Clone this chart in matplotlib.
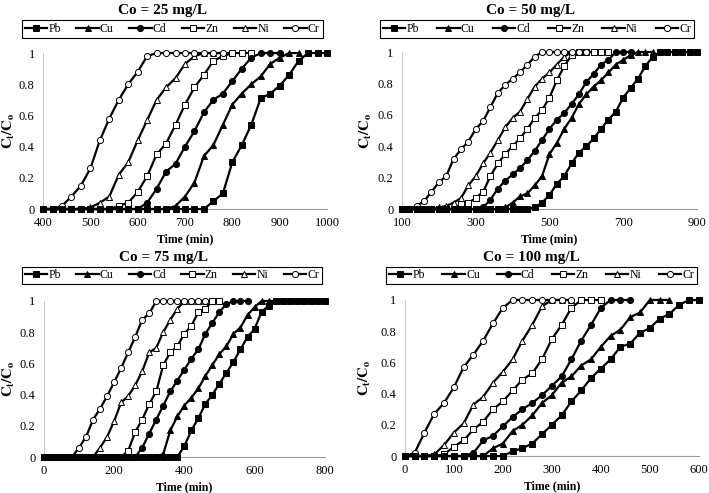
import matplotlib
matplotlib.use('Agg')
import matplotlib.pyplot as plt
import numpy as np

plt.rcParams['font.family'] = ['Liberation Serif', 'DejaVu Serif']
plt.rcParams['mathtext.fontset'] = 'stix'

N = None

# Co = 25 mg/L
t25 = list(range(400, 1001, 20))
pb25 = [0] * 18 + [0.05, 0.10, 0.30, 0.41, 0.54, 0.71, 0.74, 0.79, 0.86, 0.95, 1, 1, 1]
cu25 = [0] * 14 + [0.02, 0.08, 0.17, 0.34, 0.41, 0.54, 0.67, 0.74, 0.80, 0.85, 0.93, 0.97, 1, 1] + [N] * 3
cd25 = [0] * 11 + [0.04, 0.13, 0.24, 0.29, 0.40, 0.50, 0.62, 0.70, 0.74, 0.82, 0.90, 0.97, 1, 1, 1] + [N] * 5
zn25 = [0] * 8 + [0.02, 0.04, 0.11, 0.21, 0.35, 0.42, 0.54, 0.67, 0.78, 0.86, 0.95, 0.98, 1, 1, 1] + [N] * 8
ni25 = [0] * 5 + [0.01, 0.04, 0.08, 0.22, 0.30, 0.44, 0.57, 0.70, 0.78, 0.84, 0.93, 0.98, 1, 1, 1, 1] + [N] * 10
cr25 = [0, 0, 0.02, 0.08, 0.15, 0.26, 0.44, 0.58, 0.70, 0.80, 0.88, 0.98] + [1] * 8 + [N] * 11

# Co = 50 mg/L
t50 = list(range(100, 901, 20))
pb50 = [0] * 18 + [0.01, 0.04, 0.09, 0.16, 0.21, 0.29, 0.36, 0.40, 0.45, 0.51, 0.57, 0.62, 0.71, 0.77,
                   0.83, 0.91, 0.97] + [1] * 6
cu50 = [0] * 14 + [0.01, 0.04, 0.08, 0.10, 0.15, 0.21, 0.35, 0.42, 0.51, 0.58, 0.67, 0.73, 0.78, 0.82,
                   0.87, 0.92, 0.95, 0.98, 1, 1, 1] + [N] * 6
cd50 = [0] * 11 + [0.01, 0.06, 0.13, 0.18, 0.22, 0.26, 0.31, 0.37, 0.44, 0.51, 0.57, 0.61, 0.67, 0.73,
                   0.81, 0.86, 0.92, 0.95, 1, 1, 1] + [N] * 9
zn50 = [0] * 8 + [0.03, 0.04, 0.07, 0.11, 0.21, 0.29, 0.35, 0.40, 0.45, 0.51, 0.58, 0.63, 0.71, 0.82,
                  0.91, 0.98, 1, 1, 1, 1, 1] + [N] * 12
ni50 = [0] * 5 + [0.01, 0.02, 0.04, 0.07, 0.15, 0.21, 0.29, 0.36, 0.44, 0.52, 0.58, 0.62, 0.70, 0.78,
                  0.83, 0.87, 0.92, 0.97, 1, 1, 1, 1] + [N] * 14
cr50 = [0, 0, 0.02, 0.05, 0.11, 0.17, 0.21, 0.32, 0.38, 0.43, 0.51, 0.56, 0.65, 0.74, 0.79, 0.83, 0.87,
        0.92, 0.97] + [1] * 7 + [N] * 15

# Co = 75 mg/L
t75 = list(range(0, 801, 20))
pb75 = [0] * 20 + [0.07, 0.17, 0.25, 0.34, 0.40, 0.47, 0.54, 0.61, 0.69, 0.77, 0.82, 0.93, 0.97] + [1] * 8
cu75 = [0] * 17 + [0.02, 0.17, 0.26, 0.33, 0.38, 0.44, 0.52, 0.59, 0.66, 0.71, 0.79, 0.83, 0.91, 0.96,
                   1, 1, 1] + [N] * 7
cd75 = [0] * 14 + [0.06, 0.15, 0.24, 0.33, 0.42, 0.49, 0.56, 0.63, 0.69, 0.79, 0.86, 0.93, 0.98,
                   1, 1, 1] + [N] * 11
zn75 = [0] * 12 + [0.04, 0.16, 0.24, 0.34, 0.42, 0.59, 0.67, 0.71, 0.79, 0.84, 0.93, 0.95, 1, 1] + [N] * 15
ni75 = [0] * 8 + [0.06, 0.13, 0.23, 0.35, 0.39, 0.46, 0.55, 0.67, 0.70, 0.80, 0.88, 0.95,
                  1, 1, 1, 1, 1] + [N] * 16
cr75 = [0] * 5 + [0.06, 0.13, 0.24, 0.31, 0.39, 0.48, 0.57, 0.67, 0.77, 0.88, 0.92] + [1] * 8 + [N] * 17

# Co = 100 mg/L
t100 = list(range(0, 601, 20))
pb100 = [0] * 11 + [0.03, 0.05, 0.08, 0.14, 0.20, 0.26, 0.35, 0.42, 0.50, 0.56, 0.62, 0.70, 0.72, 0.79,
                    0.82, 0.88, 0.91, 0.97, 1, 1]
cu100 = [0] * 9 + [0.05, 0.08, 0.16, 0.20, 0.26, 0.34, 0.39, 0.47, 0.51, 0.58, 0.62, 0.70, 0.77, 0.81,
                   0.89, 0.92, 1, 1, 1] + [N] * 3
cd100 = [0] * 7 + [0.02, 0.10, 0.13, 0.19, 0.25, 0.30, 0.34, 0.39, 0.45, 0.51, 0.62, 0.74, 0.84, 0.95,
                   1, 1, 1] + [N] * 7
zn100 = [0] * 4 + [0.01, 0.06, 0.10, 0.17, 0.22, 0.30, 0.35, 0.42, 0.49, 0.53, 0.62, 0.75, 0.84, 0.95,
                   1, 1, 1] + [N] * 10
ni100 = [0] * 3 + [0.01, 0.07, 0.15, 0.21, 0.33, 0.38, 0.47, 0.54, 0.62, 0.74, 0.84, 0.96, 1, 1, 1] + [N] * 13
cr100 = [0, 0.02, 0.15, 0.27, 0.34, 0.44, 0.57, 0.65, 0.74, 0.85, 0.95] + [1] * 7 + [N] * 13

# title, time, series, xticks, axes rect, legend rect, title x/y, ylabel x (axes units)
panels = [
    ('Co = 25 mg/L', t25, [pb25, cu25, cd25, zn25, ni25, cr25], range(400, 1001, 100),
     [0.0607, 0.576, 0.4005, 0.3164], [0.031, 0.925, 0.424, 0.0325], (0.229, 0.979), -0.12),
    ('Co = 50 mg/L', t50, [pb50, cu50, cd50, zn50, ni50, cr50], range(100, 901, 200),
     [0.567, 0.576, 0.416, 0.3185], [0.536, 0.925, 0.443, 0.0325], (0.748, 0.979), -0.122),
    ('Co = 75 mg/L', t75, [pb75, cu75, cd75, zn75, ni75, cr75], range(0, 801, 200),
     [0.062, 0.073, 0.396, 0.3165], [0.031, 0.426, 0.423, 0.0305], (0.230, 0.478), -0.125),
    ('Co = 100 mg/L', t100, [pb100, cu100, cd100, zn100, ni100, cr100], range(0, 601, 100),
     [0.571, 0.075, 0.4147, 0.3165], [0.5444, 0.426, 0.4386, 0.0305], (0.749, 0.478), -0.135),
]

names = ['Pb', 'Cu', 'Cd', 'Zn', 'Ni', 'Cr']
markers = ['s', '^', 'o', 's', '^', 'o']
faces = ['black', 'black', 'black', 'white', 'white', 'white']
# Pb is drawn last so its squares sit on top along the baseline
zorders = [8, 5, 4, 3, 2, 6]

fig = plt.figure(figsize=(7.09, 4.93), dpi=100)

for title, t, series, xt, pos, lpos, tpos, ylx in panels:
    ax = fig.add_axes(pos)
    handles = []
    for k in range(6):
        y = np.array(series[k], dtype=float)
        h, = ax.plot(t, y, color='black', lw=1.6, marker=markers[k], ms=4.4,
                     mfc=faces[k], mec='black', mew=0.7, zorder=zorders[k],
                     clip_on=False, label=names[k])
        handles.append(h)
    ax.set_xlim(t[0], t[-1])
    ax.set_ylim(0, 1)
    ax.set_xticks(list(xt))
    ax.set_yticks([0, 0.2, 0.4, 0.6, 0.8, 1])
    ax.set_yticklabels(['0', '0.2', '0.4', '0.6', '0.8', '1'])
    ax.tick_params(length=0, labelsize=9, pad=6)
    for s in ['top', 'right']:
        ax.spines[s].set_visible(False)
    ax.spines['left'].set_color('#c8c8c8')
    ax.spines['bottom'].set_color('#9a9a9a')
    ax.spines['left'].set_linewidth(0.8)
    ax.spines['bottom'].set_linewidth(0.8)
    ax.set_xlabel('Time (min)', fontsize=8.5, fontweight='bold', labelpad=3)
    ax.set_ylabel(r'$\mathbf{C_t/C_o}$', fontsize=10.5, va='center')
    ax.yaxis.set_label_coords(ylx, 0.5)
    fig.text(tpos[0], tpos[1], title, ha='center', va='center', fontsize=11, fontweight='bold')
    leg = fig.legend(handles=handles, loc='center', ncol=6, mode='expand',
                     bbox_to_anchor=lpos, bbox_transform=fig.transFigure,
                     fontsize=8.5, handlelength=1.9, handletextpad=0.1, columnspacing=1.0,
                     borderpad=0.25, borderaxespad=0, fancybox=False, framealpha=1)
    leg.get_frame().set_edgecolor('black')
    leg.get_frame().set_linewidth(0.8)

fig.savefig('out.png', dpi=100)
